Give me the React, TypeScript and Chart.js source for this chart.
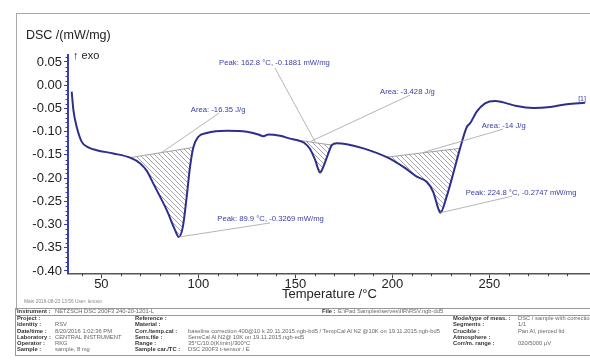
import React, { useEffect, useRef } from 'react';
import { Chart, registerables } from 'chart.js';

Chart.register(...registerables);

// ---------- data ----------
const temperatures = [
  34.7, 35.6, 37.3, 39.9, 43.3, 47.6, 56.2, 64.8, 69.9, 73.5, 76.8, 83.7, 88.0, 89.9, 92.0, 94.0, 95.7, 97.4,
  100.0, 104.3, 114.6, 125.0, 130.9, 133.5, 136.1, 142.1, 147.3, 150.7, 154.5, 157.5, 160.2, 162.8, 164.4,
  167.0, 168.8, 171.3, 176.5, 185.1, 197.1, 205.7, 212.6, 217.7, 221.1, 223.7, 224.8, 228.0, 231.4, 234.9,
  238.4, 240.1, 243.5, 247.8, 252.9, 257.2, 264.1, 272.7, 281.3, 289.9, 299.3,
];
const dscValues = [
  -0.014, -0.054, -0.090, -0.122, -0.134, -0.140, -0.147, -0.156, -0.168, -0.185, -0.212, -0.269, -0.312, -0.3269,
  -0.305, -0.240, -0.176, -0.134, -0.111, -0.103, -0.098, -0.100, -0.106, -0.110, -0.106, -0.109, -0.115, -0.118,
  -0.124, -0.137, -0.161, -0.1881, -0.176, -0.147, -0.129, -0.125, -0.127, -0.136, -0.155, -0.176, -0.197,
  -0.208, -0.230, -0.266, -0.2747, -0.240, -0.190, -0.136, -0.090, -0.082, -0.057, -0.039, -0.034, -0.037,
  -0.045, -0.049, -0.047, -0.041, -0.038,
];
// integration limits (°C) of the three evaluated peaks
const peakStart = [64.8, 150.7, 197.1];
const peakEnd = [97.4, 168.8, 234.9];

const xTickValues = [50, 100, 150, 200, 250];
const yTickValues = [0.05, 0.0, -0.05, -0.1, -0.15, -0.2, -0.25, -0.3, -0.35, -0.4];

const annotationTexts = [
  'Area: -16.35 J/g',
  'Peak: 162.8 °C, -0.1881 mW/mg',
  'Area: -3.428 J/g',
  'Area: -14 J/g',
  'Peak: 89.9 °C, -0.3269 mW/mg',
  'Peak: 224.8 °C, -0.2747 mW/mg',
];

// ---------- layout of annotations (in data coordinates) ----------
const annotationLayout = [
  { tx: 96.1, ty: -0.0537, fx: 110.7, fy: -0.060, ex: 81.1, ey: -0.145 },
  { tx: 110.7, ty: 0.047, fx: 139.5, fy: 0.0369, ex: 160.2, ey: -0.122 },
  { tx: 193.7, ty: -0.0142, fx: 209.1, fy: -0.0213, ex: 158.0, ey: -0.121 },
  { tx: 246.1, ty: -0.0875, fx: 257.1, fy: -0.0946, ex: 215.8, ey: -0.1449 },
  { tx: 109.8, ty: -0.2886, fx: 137.0, fy: -0.2966, ex: 89.9, ey: -0.3269 },
  { tx: 237.8, ty: -0.2319, fx: 261.7, fy: -0.2390, ex: 224.8, ey: -0.2747 },
];

const FONT = '"Liberation Sans", Arial, Helvetica, sans-serif';
const CURVE = '#2c2f8c';
const AXIS_BLUE = '#3a3db0';
const LABEL_BLUE = '#3b40a8';

const footerCol1 = [
  ['Project :', ''],
  ['Identity :', 'RSV'],
  ['Date/time :', '8/20/2016 1:02:36 PM'],
  ['Laboratory :', 'CENTRAL INSTRUMENT'],
  ['Operator :', 'RKG'],
  ['Sample :', 'sample, 8 mg'],
];
const footerCol2 = [
  ['Reference :', ''],
  ['Material :', ''],
  ['Corr./temp.cal :', 'baseline correction 400@10 k 20.11.2015.ngb-bd5 / TempCal Al N2 @10K on 19.11.2015.ngb-bd5'],
  ['Sens.file :', 'SensCal Al N2@ 10K on 19.11.2015.ngb-ed5'],
  ['Range :', '35°C/10.0(K/min)/300°C'],
  ['Sample car./TC :', 'DSC 200F3 t-sensor / E'],
];
const footerCol3 = [
  ['Mode/type of meas. :', 'DSC / sample with correction'],
  ['Segments :', '1/1'],
  ['Crucible :', 'Pan Al, pierced lid'],
  ['Atmosphere :', ''],
  ['Corr/m. range :', '020/5000 µV'],
];
const rowY = [319, 325.3, 331.7, 338, 344.3, 350.3];

function Txt(props: { x: number; y: number; size: number; text: string; bold?: boolean; color?: string }) {
  const { x, y, size, text, bold, color } = props;
  return (
    <span
      style={{
        position: 'absolute',
        left: x,
        top: y - size / 2,
        fontSize: size,
        lineHeight: `${size}px`,
        fontWeight: bold ? 700 : 400,
        color: color || '#222',
        whiteSpace: 'nowrap',
        fontFamily: FONT,
      }}
    >
      {text}
    </span>
  );
}

export default function App() {
  const ref = useRef<HTMLCanvasElement | null>(null);

  useEffect(() => {
    const canvas = ref.current;
    if (!canvas) return;
    const ctx = canvas.getContext('2d')!;

    const tile = document.createElement('canvas');
    tile.width = 5;
    tile.height = 5;
    const tg = tile.getContext('2d')!;
    tg.strokeStyle = '#8c8c9c';
    tg.lineWidth = 0.8;
    tg.beginPath();
    tg.moveTo(0, 0);
    tg.lineTo(5, 5);
    tg.moveTo(-1, 4);
    tg.lineTo(1, 6);
    tg.moveTo(4, -1);
    tg.lineTo(6, 1);
    tg.stroke();
    const hatch = ctx.createPattern(tile, 'repeat');

    const curve = temperatures.map((t, i) => ({ x: t, y: dscValues[i] }));
    const fills = peakStart.map((s, k) => {
      const pts = curve.filter((p) => p.x >= s && p.x <= peakEnd[k]);
      return {
        data: pts,
        borderWidth: 0,
        borderColor: 'rgba(0,0,0,0)',
        backgroundColor: hatch as any,
        fill: 'shape' as any,
        pointRadius: 0,
        cubicInterpolationMode: 'monotone' as const,
        order: 3,
      };
    });
    const baselines = peakStart.map((s, k) => {
      const pts = curve.filter((p) => p.x >= s && p.x <= peakEnd[k]);
      return {
        data: [pts[0], pts[pts.length - 1]],
        borderWidth: 0.8,
        borderColor: '#8a8a8a',
        fill: false,
        pointRadius: 0,
        order: 2,
      };
    });

    const overlay = {
      id: 'overlay',
      afterDatasetsDraw(chart: any) {
        const c = chart.ctx;
        const xs = chart.scales.x;
        const ys = chart.scales.y;
        c.save();
        c.strokeStyle = '#a2a2a2';
        c.lineWidth = 0.8;
        annotationLayout.forEach((a) => {
          c.beginPath();
          c.moveTo(xs.getPixelForValue(a.fx), ys.getPixelForValue(a.fy));
          c.lineTo(xs.getPixelForValue(a.ex), ys.getPixelForValue(a.ey));
          c.stroke();
        });
        c.fillStyle = LABEL_BLUE;
        c.font = `7.7px ${FONT}`;
        c.textBaseline = 'middle';
        c.textAlign = 'left';
        annotationLayout.forEach((a, i) => {
          c.fillText(annotationTexts[i], xs.getPixelForValue(a.tx), ys.getPixelForValue(a.ty));
        });
        // curve end marker
        const lastT = temperatures[temperatures.length - 1];
        const lastV = dscValues[dscValues.length - 1];
        c.font = `7px ${FONT}`;
        c.textAlign = 'right';
        c.fillText('[1]', xs.getPixelForValue(lastT) + 1, ys.getPixelForValue(lastV) - 4);
        c.restore();
      },
      afterDraw(chart: any) {
        const c = chart.ctx;
        const xs = chart.scales.x;
        const ys = chart.scales.y;
        const area = chart.chartArea;
        c.save();
        c.lineWidth = 1;
        c.strokeStyle = '#444';
        for (let t = 40; t <= 300; t += 10) {
          if (t % 50 === 0) continue;
          const px = Math.round(xs.getPixelForValue(t)) + 0.5;
          c.beginPath();
          c.moveTo(px, area.bottom);
          c.lineTo(px, area.bottom + 3);
          c.stroke();
        }
        c.strokeStyle = AXIS_BLUE;
        for (let k = -40; k <= 6; k++) {
          if (k % 5 === 0) continue;
          const py = Math.round(ys.getPixelForValue(k / 100)) + 0.5;
          c.beginPath();
          c.moveTo(area.left - 2.5, py);
          c.lineTo(area.left, py);
          c.stroke();
        }
        c.restore();
      },
    };

    const chart = new Chart(ctx, {
      type: 'line',
      data: {
        datasets: [
          {
            data: curve,
            borderColor: CURVE,
            borderWidth: 2,
            pointRadius: 0,
            fill: false,
            cubicInterpolationMode: 'monotone',
            order: 0,
          } as any,
          ...fills,
          ...baselines,
        ],
      },
      options: {
        animation: false,
        responsive: false,
        devicePixelRatio: 1,
        events: [],
        layout: { padding: { top: 55, left: 0, right: 0, bottom: 0 } },
        plugins: { legend: { display: false }, tooltip: { enabled: false }, title: { display: false } },
        scales: {
          x: {
            type: 'linear',
            min: 32.8,
            max: 301.9,
            afterBuildTicks: (s: any) => {
              s.ticks = xTickValues.map((v) => ({ value: v }));
            },
            afterFit: (s: any) => {
              s.height = 31.7;
            },
            grid: { drawOnChartArea: false, drawTicks: true, tickLength: 5, color: '#444' },
            border: { color: '#555', width: 1.5 },
            ticks: {
              color: '#222',
              font: { family: FONT, size: 13 },
              padding: -2,
              maxRotation: 0,
              autoSkip: false,
            },
          },
          y: {
            type: 'linear',
            min: -0.405,
            max: 0.065,
            afterBuildTicks: (s: any) => {
              s.ticks = yTickValues.map((v) => ({ value: v }));
            },
            afterFit: (s: any) => {
              s.width = 68;
            },
            grid: { drawOnChartArea: false, drawTicks: true, tickLength: 4, color: AXIS_BLUE },
            border: { color: AXIS_BLUE, width: 2 },
            ticks: {
              color: '#222',
              font: { family: FONT, size: 13 },
              padding: 2,
              autoSkip: false,
              callback: (v: any) => {
                const s = Number(v).toFixed(2);
                return s === '-0.00' ? '0.00' : s;
              },
            },
          },
        },
      },
      plugins: [overlay],
    });
    return () => chart.destroy();
  }, []);

  return (
    <div
      style={{
        position: 'absolute',
        left: 0,
        top: 0,
        width: 590,
        height: 360,
        overflow: 'hidden',
        background: '#fff',
        fontFamily: FONT,
      }}
    >
      <div
        style={{
          position: 'absolute',
          left: 16,
          top: 13,
          width: 600,
          height: 296,
          borderTop: '1px solid #a8a8a8',
          borderLeft: '1px solid #a8a8a8',
        }}
      />
      <canvas
        ref={ref}
        width={590}
        height={305}
        style={{ position: 'absolute', left: 0, top: 0, width: 590, height: 305 }}
      />
      <Txt x={26} y={35} size={12.5} text="DSC /(mW/mg)" />
      <Txt x={73} y={55} size={11} text="↑ exo" />
      <Txt x={282} y={293} size={13} text="Temperature /°C" />
      <Txt x={24} y={302} size={4.8} text="Main   2016-08-23 13:56    User: lenovo" color="#888" />
      <div
        style={{
          position: 'absolute',
          left: 15,
          top: 308,
          width: 600,
          height: 46,
          borderTop: '1px solid #999',
          borderBottom: '1px solid #999',
          borderLeft: '1px solid #999',
        }}
      />
      <div style={{ position: 'absolute', left: 15, top: 315, width: 600, height: 0, borderTop: '1px solid #999' }} />
      <Txt x={17} y={311.7} size={5.8} bold text="Instrument :" color="#333" />
      <Txt x={55} y={311.7} size={5.8} text="NETZSCH DSC 200F3 240-20-1201-L" color="#666" />
      <Txt x={322} y={311.7} size={5.8} bold text="File :" color="#333" />
      <Txt x={338} y={311.7} size={5.8} text="E:\Pad Samples\serves\IIR\RSV.ngb-dd5" color="#666" />
      {footerCol1.map((r, i) => (
        <React.Fragment key={'a' + i}>
          <Txt x={17} y={rowY[i]} size={5.8} bold text={r[0]} color="#333" />
          <Txt x={55} y={rowY[i]} size={5.8} text={r[1]} color="#666" />
        </React.Fragment>
      ))}
      {footerCol2.map((r, i) => (
        <React.Fragment key={'b' + i}>
          <Txt x={135} y={rowY[i]} size={5.8} bold text={r[0]} color="#333" />
          <Txt x={188} y={rowY[i]} size={5.8} text={r[1]} color="#666" />
        </React.Fragment>
      ))}
      {footerCol3.map((r, i) => (
        <React.Fragment key={'c' + i}>
          <Txt x={453} y={rowY[i]} size={5.8} bold text={r[0]} color="#333" />
          <Txt x={518} y={rowY[i]} size={5.8} text={r[1]} color="#666" />
        </React.Fragment>
      ))}
    </div>
  );
}
